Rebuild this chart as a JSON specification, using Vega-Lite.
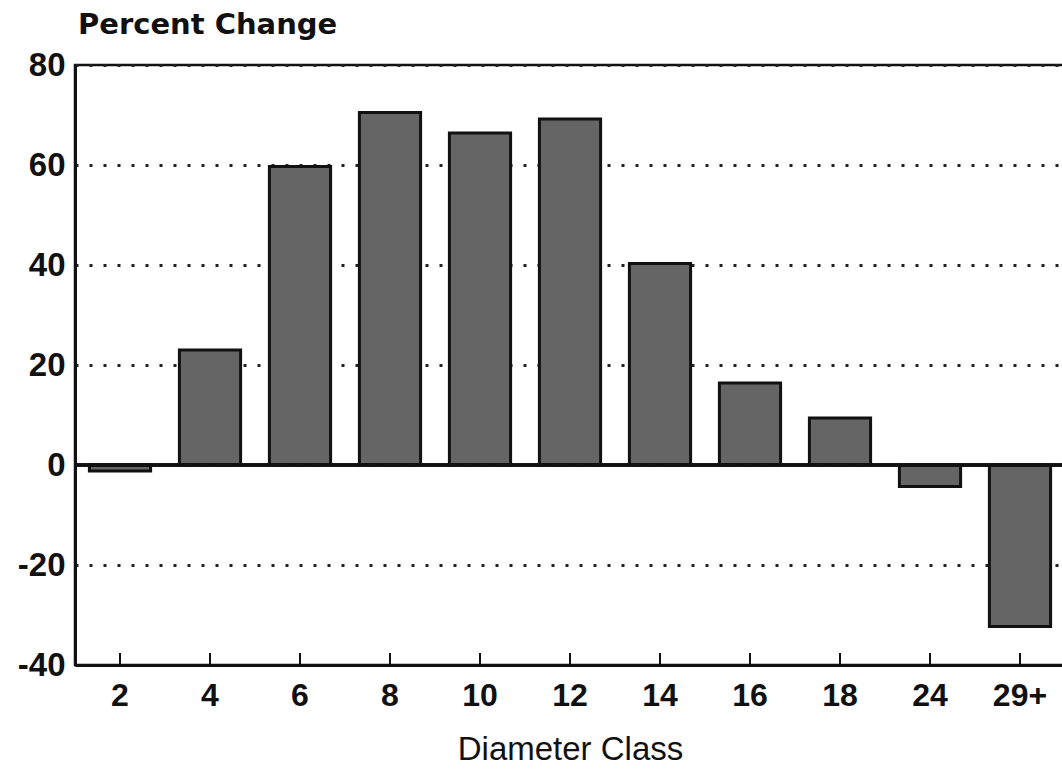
{
  "$schema": "https://vega.github.io/schema/vega-lite/v6.json",
  "width": 990,
  "height": 600,
  "autosize": {"type": "none"},
  "padding": {"left": 75, "top": 65, "right": 0, "bottom": 111},
  "background": "white",
  "title": {
    "text": "Percent Change",
    "anchor": "start",
    "frame": "group",
    "font": "DejaVu Sans",
    "fontSize": 29,
    "fontWeight": "bold",
    "color": "#111111",
    "offset": -14,
    "baseline": "alphabetic",
    "dx": 3
  },
  "config": {
    "view": {"stroke": "#111111", "strokeWidth": 2.5}
  },
  "data": {
    "values": [
      {"diameter": "2", "change": -1.2},
      {"diameter": "4", "change": 23},
      {"diameter": "6", "change": 59.7},
      {"diameter": "8", "change": 70.5},
      {"diameter": "10", "change": 66.4},
      {"diameter": "12", "change": 69.2},
      {"diameter": "14", "change": 40.3},
      {"diameter": "16", "change": 16.4},
      {"diameter": "18", "change": 9.4},
      {"diameter": "24", "change": -4.3},
      {"diameter": "29+", "change": -32.3}
    ]
  },
  "layer": [
    {
      "mark": {"type": "bar", "fill": "#656565", "stroke": "#111111", "strokeWidth": 3},
      "encoding": {
        "x": {
          "field": "diameter",
          "type": "ordinal",
          "sort": null,
          "scale": {"paddingInner": 0.32, "paddingOuter": 0.16},
          "axis": {
            "orient": "bottom",
            "title": "Diameter Class",
            "titleFont": "Liberation Sans",
            "titleFontSize": 33,
            "titleFontWeight": "normal",
            "titleColor": "#111111",
            "titlePadding": 22,
            "labelAngle": 0,
            "labelFont": "Liberation Sans",
            "labelFontSize": 32,
            "labelFontWeight": "bold",
            "labelColor": "#111111",
            "labelPadding": 15,
            "ticks": false,
            "domain": true,
            "domainWidth": 3,
            "domainColor": "#111111",
            "grid": false
          }
        },
        "y": {
          "field": "change",
          "type": "quantitative",
          "scale": {"domain": [-40, 80], "nice": false, "zero": false},
          "axis": {
            "title": null,
            "values": [-40, -20, 0, 20, 40, 60, 80],
            "labelExpr": "datum.value < 0 ? '-' + abs(datum.value) : datum.label",
            "grid": true,
            "gridDash": [3, 11],
            "gridWidth": 3,
            "gridColor": "#222222",
            "domain": true,
            "domainWidth": 3,
            "domainColor": "#111111",
            "ticks": false,
            "labelFont": "Liberation Sans",
            "labelFontSize": 33,
            "labelFontWeight": "bold",
            "labelColor": "#111111",
            "labelPadding": 10
          }
        }
      }
    },
    {
      "mark": {"type": "rule", "color": "#111111", "strokeWidth": 2},
      "encoding": {
        "x": {"field": "diameter", "type": "ordinal", "sort": null},
        "y": {"datum": -40},
        "y2": {"datum": -37.6}
      }
    },
    {
      "mark": {"type": "rule", "color": "#111111", "strokeWidth": 2.5},
      "encoding": {"y": {"datum": 0}}
    }
  ]
}
